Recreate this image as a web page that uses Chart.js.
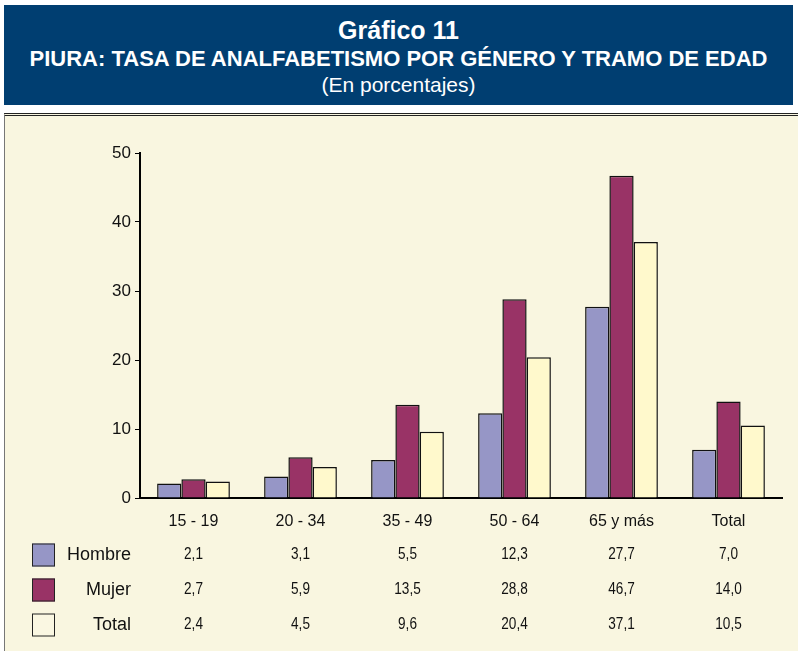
<!DOCTYPE html>
<html><head><meta charset="utf-8">
<script src="https://cdn.jsdelivr.net/npm/chart.js@4.4.1/dist/chart.umd.min.js"></script>
<style>
body{margin:0;background:#fff;width:798px;height:651px;overflow:hidden;font-family:"Liberation Sans",Arial,sans-serif;position:relative;}
#hdr{position:absolute;left:4px;top:5px;width:789px;height:100px;background:#003e71;color:#fff;text-align:center;}
#hdr div{position:absolute;left:0;width:100%;white-space:nowrap;}
#t1{top:12.5px;font-size:25px;font-weight:bold;line-height:25px;}
#t2{top:43px;font-size:22px;font-weight:bold;line-height:22px;}
#t3{top:69px;font-size:21px;line-height:21px;}
#panel{position:absolute;left:4px;top:113px;width:794px;height:538px;background:#f9f6e0;border-top:3px double #222;border-left:1px solid #777;box-sizing:border-box;}
#wrap{position:absolute;left:0;top:114px;width:798px;height:537px;}
</style></head>
<body>
<div id="hdr"><div id="t1">Gráfico 11</div><div id="t2">PIURA: TASA DE ANALFABETISMO POR GÉNERO Y TRAMO DE EDAD</div><div id="t3">(En porcentajes)</div></div>
<div id="panel"></div>
<div id="wrap"><canvas id="c" width="798" height="537"></canvas></div>
<script>
const categories = ["15 - 19","20 - 34","35 - 49","50 - 64","65 y más","Total"];
const seriesNames = ["Hombre","Mujer","Total"];
const hombre = [2.1,3.1,5.5,12.3,27.7,7.0];
const mujer  = [2.7,5.9,13.5,28.8,46.7,14.0];
const total  = [2.4,4.5,9.6,20.4,37.1,10.5];
const colors = ["#9696c6","#993366","#fff9cc"];
const legendColors = ["#9696c6","#993366","#faf7e2"];
const allSeries = [hombre,mujer,total];
const fmt = v => v.toFixed(1).replace('.',',');

const tablePlugin = {
  id:'dataTable',
  afterDraw(chart){
    const ctx = chart.ctx, xs = chart.scales.x;
    const rowY = [441,476,511];
    ctx.save();
    allSeries.forEach((vals,ri)=>{
      const y = rowY[ri];
      ctx.fillStyle = legendColors[ri];
      ctx.fillRect(32,y-11.5,23,23);
      ctx.strokeStyle = '#222'; ctx.lineWidth = 1;
      ctx.strokeRect(32.5,y-11,22,22);
      ctx.fillStyle = '#111';
      ctx.textAlign = 'right'; ctx.textBaseline = 'middle';
      ctx.font = '18px "Liberation Sans", Arial, sans-serif';
      ctx.fillText(seriesNames[ri],131,y);
      ctx.textAlign = 'center';
      ctx.font = '16px "Liberation Sans", Arial, sans-serif';
      vals.forEach((v,i)=>{
        const x = xs.getPixelForValue(i);
        ctx.save();
        ctx.translate(x,y);
        ctx.scale(0.85,1);
        ctx.fillText(fmt(v),0,0);
        ctx.restore();
      });
    });
    ctx.restore();
  }
};

new Chart(document.getElementById('c'),{
  type:'bar',
  data:{
    labels:categories,
    datasets:allSeries.map((d,i)=>({
      label:seriesNames[i], data:d, backgroundColor:colors[i],
      borderColor:'#111', borderWidth:1.5,
      categoryPercentage:0.68, barPercentage:1.0
    }))
  },
  options:{
    responsive:false, animation:false,
    layout:{padding:{top:39,right:16,left:0,bottom:0}},
    plugins:{legend:{display:false},tooltip:{enabled:false},title:{display:false}},
    scales:{
      x:{
        grid:{display:false,drawTicks:false},
        border:{display:true,color:'#000',width:2},
        ticks:{color:'#111',padding:14,font:{family:'"Liberation Sans", Arial, sans-serif',size:16}},
        afterFit(s){ s.height = 153; }
      },
      y:{
        min:0,max:50,
        grid:{display:true,drawOnChartArea:false,drawTicks:true,tickLength:5,color:'#000',lineWidth:1},
        border:{display:true,color:'#000',width:2},
        ticks:{stepSize:10,color:'#111',padding:4,font:{family:'"Liberation Sans", Arial, sans-serif',size:17}},
        afterFit(s){ s.width = 140; }
      }
    }
  },
  plugins:[tablePlugin]
});
</script>
</body></html>
